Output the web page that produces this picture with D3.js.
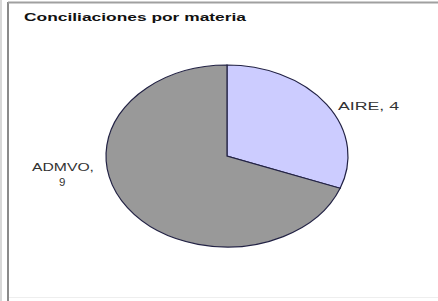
<!DOCTYPE html>
<html>
<head>
<meta charset="utf-8">
<script src="https://cdn.jsdelivr.net/npm/d3@7"></script>
<style>
  body { margin: 0; background: #fff; }
  text { font-family: "Liberation Sans", Arial, sans-serif; }
</style>
</head>
<body>
<svg id="chart" width="438" height="301"></svg>
<script>
// datos del grafico
var materias = ["AIRE", "ADMVO"];
var valores = [4, 9];
var colores = ["#ccccff", "#999999"];

var svg = d3.select("#chart");

// marco
svg.append("rect").attr("x", 0).attr("y", 0).attr("width", 2).attr("height", 301).attr("fill", "#d8d8d8");
svg.append("line").attr("x1", 8).attr("y1", 2).attr("x2", 8).attr("y2", 301)
  .attr("stroke", "#8a8a8a").attr("stroke-width", 2);
svg.append("line").attr("x1", 8).attr("y1", 2.5).attr("x2", 438).attr("y2", 2.5)
  .attr("stroke", "#a0a0a0").attr("stroke-width", 2);
svg.append("line").attr("x1", 9).attr("y1", 297.5).attr("x2", 438).attr("y2", 297.5)
  .attr("stroke", "#eeeeee").attr("stroke-width", 1);

// titulo (texto ancho como en la imagen original)
svg.append("text")
  .attr("x", 24).attr("y", 21)
  .attr("font-size", "11px").attr("font-weight", "bold").attr("fill", "#111")
  .attr("textLength", 222).attr("lengthAdjust", "spacingAndGlyphs")
  .text("Conciliaciones por materia");

var cx = 227, cy = 156, rx = 121, ry = 91;

var pie = d3.pie().sort(null).value(function(d){ return d; });
var arcs = pie(valores);

// elipse: se dibuja con radio rx y se escala en y
var arc = d3.arc().innerRadius(0).outerRadius(rx);

var g = svg.append("g")
  .attr("transform", "translate(" + cx + "," + cy + ") scale(1," + (ry / rx) + ")");

g.selectAll("path")
  .data(arcs)
  .enter()
  .append("path")
  .attr("d", arc)
  .attr("fill", function(d, i){ return colores[i]; })
  .attr("stroke", "#222244")
  .attr("stroke-width", 1.2)
  .attr("vector-effect", "non-scaling-stroke");

// etiquetas
svg.append("text")
  .attr("x", 338).attr("y", 110)
  .attr("font-size", "11.5px").attr("fill", "#333")
  .attr("textLength", 61).attr("lengthAdjust", "spacingAndGlyphs")
  .text(materias[0] + ", " + valores[0]);

var t = svg.append("text")
  .attr("x", 32).attr("y", 171)
  .attr("font-size", "11.5px").attr("fill", "#333");
t.append("tspan").attr("x", 32)
  .attr("textLength", 62).attr("lengthAdjust", "spacingAndGlyphs")
  .text(materias[1] + ",");
t.append("tspan").attr("x", 59).attr("dy", 15).text(valores[1]);
</script>
</body>
</html>
